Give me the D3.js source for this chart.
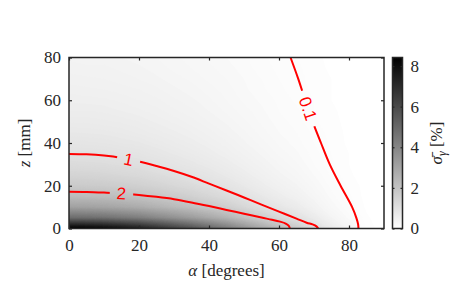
<!DOCTYPE html>
<html>
<head>
<meta charset="utf-8">
<script src="https://cdn.jsdelivr.net/npm/d3@7"></script>
<style>
  body { margin: 0; background: #fff; }
  svg text { font-family: "Liberation Serif", serif; }
</style>
</head>
<body>
<svg width="463" height="287"></svg>
<script>
// grid of sigma values [%], rows = z (mm), columns = alpha (degrees)
const alphaGrid = [0, 5, 10, 15, 20, 25, 30, 35, 40, 45, 50, 55, 60, 65, 70, 75, 80, 85, 90];
const zGrid = [0, 5, 10, 15, 20, 25, 30, 35, 40, 45, 50, 55, 60, 65, 70, 75, 80];
const sigmaGrid = [
  [8.42, 8.34, 8.17, 7.83, 7.45, 6.90, 6.32, 5.73, 5.05, 4.38, 3.62, 2.90, 2.27, 1.77, 1.18, 0.66, 0.32, 0.08, 0],
  [4.80, 4.75, 4.66, 4.46, 4.25, 3.94, 3.60, 3.26, 2.88, 2.50, 2.06, 1.66, 1.30, 1.01, 0.67, 0.37, 0.18, 0.05, 0],
  [3.09, 3.06, 3.00, 2.87, 2.73, 2.53, 2.32, 2.10, 1.85, 1.61, 1.33, 1.07, 0.83, 0.65, 0.43, 0.24, 0.12, 0.03, 0],
  [2.26, 2.24, 2.19, 2.10, 2.00, 1.85, 1.70, 1.54, 1.36, 1.18, 0.97, 0.78, 0.61, 0.47, 0.32, 0.18, 0.09, 0.02, 0],
  [1.75, 1.73, 1.70, 1.63, 1.55, 1.44, 1.31, 1.19, 1.05, 0.91, 0.75, 0.60, 0.47, 0.37, 0.25, 0.14, 0.07, 0.02, 0],
  [1.41, 1.40, 1.37, 1.31, 1.25, 1.16, 1.06, 0.96, 0.85, 0.73, 0.61, 0.49, 0.38, 0.30, 0.20, 0.11, 0.05, 0.01, 0],
  [1.18, 1.16, 1.14, 1.09, 1.04, 0.96, 0.88, 0.80, 0.71, 0.61, 0.51, 0.41, 0.32, 0.25, 0.16, 0.09, 0.04, 0.01, 0],
  [1.00, 0.99, 0.97, 0.93, 0.89, 0.82, 0.75, 0.68, 0.60, 0.52, 0.43, 0.35, 0.27, 0.21, 0.14, 0.08, 0.04, 0.01, 0],
  [0.87, 0.86, 0.84, 0.80, 0.77, 0.71, 0.65, 0.59, 0.52, 0.45, 0.37, 0.30, 0.23, 0.18, 0.12, 0.07, 0.03, 0.01, 0],
  [0.76, 0.75, 0.74, 0.71, 0.67, 0.62, 0.57, 0.52, 0.46, 0.39, 0.33, 0.26, 0.20, 0.16, 0.11, 0.06, 0.03, 0.01, 0],
  [0.67, 0.67, 0.65, 0.63, 0.60, 0.55, 0.51, 0.46, 0.40, 0.35, 0.29, 0.23, 0.18, 0.14, 0.09, 0.05, 0.03, 0.01, 0],
  [0.60, 0.60, 0.59, 0.56, 0.53, 0.50, 0.45, 0.41, 0.36, 0.31, 0.26, 0.21, 0.16, 0.13, 0.08, 0.05, 0.02, 0.01, 0],
  [0.55, 0.54, 0.53, 0.51, 0.48, 0.45, 0.41, 0.37, 0.33, 0.28, 0.23, 0.19, 0.15, 0.11, 0.08, 0.04, 0.02, 0.01, 0],
  [0.50, 0.49, 0.48, 0.46, 0.44, 0.41, 0.37, 0.34, 0.30, 0.26, 0.21, 0.17, 0.13, 0.10, 0.07, 0.04, 0.02, 0.00, 0],
  [0.46, 0.45, 0.44, 0.42, 0.40, 0.37, 0.34, 0.31, 0.27, 0.24, 0.20, 0.16, 0.12, 0.10, 0.06, 0.04, 0.02, 0.00, 0],
  [0.42, 0.41, 0.41, 0.39, 0.37, 0.34, 0.31, 0.28, 0.25, 0.22, 0.18, 0.14, 0.11, 0.09, 0.06, 0.03, 0.02, 0.00, 0],
  [0.39, 0.38, 0.38, 0.36, 0.34, 0.32, 0.29, 0.26, 0.23, 0.20, 0.17, 0.13, 0.10, 0.08, 0.05, 0.03, 0.01, 0.00, 0]
];

// contour lines, [alpha, z]
const contour2 = [[0,17.2],[5,17.1],[10,16.8],[15,16.4],[20,15.7],[25,14.8],[30,13.7],[35,12.2],[40,10.5],[45,8.7],[50,6.9],[55,5.1],[58,4.1],[60.3,3.2],[61.9,2.3],[62.8,1.2],[63.1,0]];
const contour1 = [[0,34.9],[5,34.7],[10,34.1],[15,33.0],[20,31.3],[25,29.2],[30,26.9],[35,24.2],[40,21.0],[45,17.8],[50,14.5],[55,11.2],[60,7.9],[65,4.6],[67.9,2.7],[69.6,1.9],[70.7,1.0],[71.2,0]];
const contour01 = [[63.3,80],[65.5,70],[67.5,60],[69.6,50],[72.0,40],[74.5,30],[77.6,20],[80.9,10],[82.1,5],[82.6,2],[82.7,0]];

const xTicks = [0, 20, 40, 60, 80];
const zTicks = [0, 20, 40, 60, 80];
const cTicks = [0, 2, 4, 6, 8];
const cMax = 8.42;

var svg = d3.select("svg");
var pLeft = 69, pRight = 384, pTop = 57.5, pBottom = 228.5;
var ink = "#262626";

var x = d3.scaleLinear().domain([0, 90]).range([pLeft, pRight]);
var y = d3.scaleLinear().domain([0, 80]).range([pBottom, pTop]);
var shade = d3.scaleLinear().domain([0, cMax]).range(["#ffffff", "#000000"]);

var defs = svg.append("defs");
defs.append("clipPath").attr("id", "plotclip")
    .append("rect").attr("x", pLeft).attr("y", pTop)
    .attr("width", pRight - pLeft).attr("height", pBottom - pTop);

var g = svg.append("g").attr("clip-path", "url(#plotclip)");
g.append("rect").attr("x", pLeft).attr("y", pTop)
    .attr("width", pRight - pLeft).attr("height", pBottom - pTop)
    .attr("fill", shade(0));

// shaded field as many filled contour bands
var nx = alphaGrid.length, nz = zGrid.length;
var values = [].concat(...sigmaGrid);
var da = alphaGrid[1] - alphaGrid[0], dz = zGrid[1] - zGrid[0];
var proj = d3.geoTransform({
    point: function (c, r) {
        this.stream.point(x(alphaGrid[0] + (c - 0.5) * da), y(zGrid[0] + (r - 0.5) * dz));
    }
});
var geo = d3.geoPath(proj);
var bands = d3.contours().size([nx, nz]).thresholds(d3.range(0.04, cMax, 0.04))(values);
g.selectAll("path.band").data(bands).join("path")
    .attr("class", "band")
    .attr("d", geo)
    .attr("fill", d => shade(d.value + 0.02));

// red contour lines with labels in gaps
var lineGen = d3.line().x(d => x(d[0])).y(d => y(d[1])).curve(d3.curveCatmullRom.alpha(0.5));
var lines = [
    { text: "2", pts: contour2, near: [15, 15.7] },
    { text: "1", pts: contour1, near: [16.9, 31.7] },
    { text: "0.1", pts: contour01, near: [67.7, 55.8] }
];

lines.forEach(function (ln, k) {
    var p = g.append("path")
        .attr("d", lineGen(ln.pts))
        .attr("fill", "none")
        .attr("stroke", "#ff0000")
        .attr("stroke-width", 2);
    var node = p.node(), total = node.getTotalLength();
    var tx = x(ln.near[0]), ty = y(ln.near[1]);
    var best = 0, bestD = Infinity;
    for (var s = 0; s <= total; s += 0.5) {
        var q = node.getPointAtLength(s);
        var dd = (q.x - tx) * (q.x - tx) + (q.y - ty) * (q.y - ty);
        if (dd < bestD) { bestD = dd; best = s; }
    }
    var c = node.getPointAtLength(best);
    var a = node.getPointAtLength(Math.max(0, best - 4));
    var b = node.getPointAtLength(Math.min(total, best + 4));
    var ang = Math.atan2(b.y - a.y, b.x - a.x) * 180 / Math.PI;

    var label = g.append("text")
        .attr("transform", "translate(" + c.x + "," + c.y + ") rotate(" + ang + ")")
        .attr("text-anchor", "middle")
        .attr("dy", "0.35em")
        .attr("fill", "#ff0000")
        .style("font-family", "'Liberation Sans', Arial, sans-serif")
        .style("font-size", "17px")
        .text(ln.text);
    var w = label.node().getComputedTextLength() + 14;

    var m = defs.append("mask").attr("id", "gap" + k)
        .attr("maskUnits", "userSpaceOnUse")
        .attr("x", 0).attr("y", 0).attr("width", 463).attr("height", 287);
    m.append("rect").attr("width", 463).attr("height", 287).attr("fill", "#fff");
    m.append("rect").attr("x", -w / 2).attr("y", -9).attr("width", w).attr("height", 18)
        .attr("transform", "translate(" + c.x + "," + c.y + ") rotate(" + ang + ")")
        .attr("fill", "#000");
    p.attr("mask", "url(#gap" + k + ")");
});

// axes, ticks inside, box
function styleAxis(sel) {
    sel.select(".domain").remove();
    sel.attr("font-size", 17).attr("font-family", "'Liberation Serif', serif").attr("color", ink);
    sel.selectAll(".tick line").attr("stroke-width", 1.2);
}
svg.append("g").attr("transform", "translate(0," + pBottom + ")")
    .call(d3.axisBottom(x).tickValues(xTicks).tickSizeInner(-3).tickSizeOuter(0).tickPadding(10))
    .call(styleAxis);
svg.append("g").attr("transform", "translate(0," + pTop + ")")
    .call(d3.axisTop(x).tickValues(xTicks).tickSizeInner(-3).tickSizeOuter(0).tickFormat(""))
    .call(styleAxis);
svg.append("g").attr("transform", "translate(" + pLeft + ",0)")
    .call(d3.axisLeft(y).tickValues(zTicks).tickSizeInner(-3).tickSizeOuter(0).tickPadding(8))
    .call(styleAxis);
svg.append("g").attr("transform", "translate(" + pRight + ",0)")
    .call(d3.axisRight(y).tickValues(zTicks).tickSizeInner(-3).tickSizeOuter(0).tickFormat(""))
    .call(styleAxis);
svg.append("rect").attr("x", pLeft).attr("y", pTop)
    .attr("width", pRight - pLeft).attr("height", pBottom - pTop)
    .attr("fill", "none").attr("stroke", ink).attr("stroke-width", 1.5);

// axis titles
var xl = svg.append("text").attr("x", (pLeft + pRight) / 2).attr("y", 276)
    .attr("text-anchor", "middle").attr("font-size", 17).attr("fill", ink);
xl.append("tspan").attr("font-style", "italic").text("α");
xl.append("tspan").text(" [degrees]");

var yl = svg.append("text").attr("transform", "translate(30," + (pTop + pBottom) / 2 + ") rotate(-90)")
    .attr("text-anchor", "middle").attr("font-size", 17).attr("fill", ink);
yl.append("tspan").attr("font-style", "italic").text("z");
yl.append("tspan").text(" [mm]");

// colorbar
var cb0 = 392.5, cb1 = 402.5;
var cy = d3.scaleLinear().domain([0, cMax]).range([pBottom, pTop]);
var grad = defs.append("linearGradient").attr("id", "cbgrad")
    .attr("x1", 0).attr("y1", 1).attr("x2", 0).attr("y2", 0);
grad.append("stop").attr("offset", "0%").attr("stop-color", shade(0));
grad.append("stop").attr("offset", "100%").attr("stop-color", shade(cMax));
svg.append("rect").attr("x", cb0).attr("y", pTop)
    .attr("width", cb1 - cb0).attr("height", pBottom - pTop)
    .attr("fill", "url(#cbgrad)");
svg.append("g").attr("transform", "translate(" + cb1 + ",0)")
    .call(d3.axisRight(cy).tickValues(cTicks).tickSizeInner(-2).tickSizeOuter(0).tickPadding(8))
    .call(styleAxis);
svg.append("g").attr("transform", "translate(" + cb0 + ",0)")
    .call(d3.axisLeft(cy).tickValues(cTicks).tickSizeInner(-2).tickSizeOuter(0).tickFormat(""))
    .call(styleAxis);
svg.append("rect").attr("x", cb0).attr("y", pTop)
    .attr("width", cb1 - cb0).attr("height", pBottom - pTop)
    .attr("fill", "none").attr("stroke", ink).attr("stroke-width", 1.5);

var cl = svg.append("text").attr("transform", "translate(442," + (pTop + pBottom) / 2 + ") rotate(-90)")
    .attr("text-anchor", "middle").attr("font-size", 17).attr("fill", ink);
cl.append("tspan").attr("font-style", "italic").text("σ\u0304");
cl.append("tspan").attr("font-style", "italic").attr("font-size", 12).attr("dy", 4).text("γ");
cl.append("tspan").attr("dy", -4).text(" [%]");
</script>
</body>
</html>
